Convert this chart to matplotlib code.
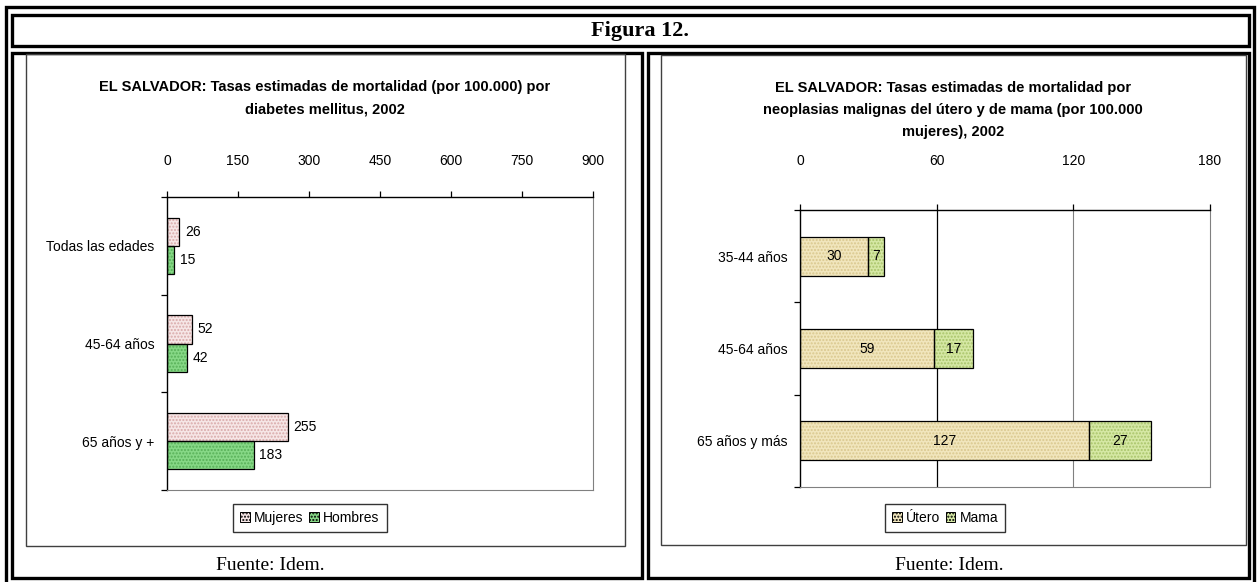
import matplotlib.pyplot as plt
from matplotlib.patches import Rectangle
import numpy as np

plt.rcParams['font.family'] = ['Liberation Sans', 'DejaVu Sans']

W, H = 1258, 582

# --- data: diabetes mortality by age group
diab_groups = ['Todas las edades', '45-64 años', '65 años y +']
diab_mujeres = [26, 52, 255]
diab_hombres = [15, 42, 183]
diab_ticks = [0, 150, 300, 450, 600, 750, 900]

# --- data: uterine / breast cancer mortality
neo_groups = ['35-44 años', '45-64 años', '65 años y más']
neo_utero = [30, 59, 127]
neo_mama = [7, 17, 27]
neo_ticks = [0, 60, 120, 180]

c_muj, c_muj_h = '#f6e6e6', '#d9a9a9'
c_hom, c_hom_h = '#86d886', '#58b058'
c_ute, c_ute_h = '#f1e6bd', '#d9c78e'
c_mam, c_mam_h = '#d5e8a4', '#a9c46a'
grey = '#808080'
FS = 10


def box(x0, y0, x1, y1):
    """pixel box (top-left origin) -> figure fraction rect"""
    return [x0 / W, 1 - y1 / H, (x1 - x0) / W, (y1 - y0) / H]


def frame(x0, y0, x1, y1, lw=2.2, color='black'):
    fig.patches.append(Rectangle((x0 / W, 1 - y1 / H), (x1 - x0) / W, (y1 - y0) / H,
                                 transform=fig.transFigure, fill=False,
                                 lw=lw, edgecolor=color, zorder=5))


def stipple_barh(ax, y, w, left, h, face, dots):
    ax.barh(y, w, left=left, height=h, color=face, hatch='.....',
            edgecolor=dots, linewidth=0, zorder=2)
    ax.barh(y, w, left=left, height=h, fill=False, edgecolor='black',
            linewidth=0.9, zorder=3)


def style_axis(ax, ticks, ncat, pad):
    ax.set_xlim(ticks[0], ticks[-1])
    ax.set_ylim(ncat - 0.5, -0.5)
    ax.xaxis.tick_top()
    ax.set_xticks(ticks)
    ax.tick_params(axis='x', direction='out', length=4, width=0.9, pad=pad,
                   labelsize=FS, colors='black')
    ax.set_yticks(np.arange(ncat))
    ax.set_yticks(np.arange(ncat + 1) - 0.5, minor=True)
    ax.tick_params(axis='y', which='major', length=0, pad=9, labelsize=FS)
    ax.tick_params(axis='y', which='minor', direction='out', length=4, width=0.9)
    ax.spines['top'].set_linewidth(1.0)
    ax.spines['left'].set_linewidth(1.0)
    for s in ('right', 'bottom'):
        ax.spines[s].set_color(grey)
        ax.spines[s].set_linewidth(0.8)


fig = plt.figure(figsize=(W / 100, H / 100), dpi=100)

# table borders
frame(6, 7, 1254, 590, lw=2.4)
frame(12, 15, 1249, 46, lw=2.4)
frame(12, 53, 642, 578, lw=2.4)
frame(648, 53, 1249, 578, lw=2.4)
frame(26, 54, 625, 546, lw=1.0, color='#404040')
frame(661, 55, 1246, 545, lw=1.0, color='#404040')

fig.text(640 / W, 1 - 31 / H, 'Figura 12.', ha='center', va='center',
         fontsize=16, fontweight='bold', family='Liberation Serif')
fig.text(270 / W, 1 - 565 / H, 'Fuente: Idem.', ha='center', va='center',
         fontsize=14, family='Liberation Serif')
fig.text(949 / W, 1 - 565 / H, 'Fuente: Idem.', ha='center', va='center',
         fontsize=14, family='Liberation Serif')

# ---------------- left chart: diabetes
ax1 = fig.add_axes(box(167, 197, 593, 490))
y = np.arange(len(diab_groups))
bh = 0.29
for i in range(len(y)):
    stipple_barh(ax1, y[i] - bh / 2, diab_mujeres[i], 0, bh, c_muj, c_muj_h)
    stipple_barh(ax1, y[i] + bh / 2, diab_hombres[i], 0, bh, c_hom, c_hom_h)
    ax1.annotate(str(diab_mujeres[i]), (diab_mujeres[i], y[i] - bh / 2),
                 xytext=(4, 0), textcoords='offset points', va='center',
                 fontsize=FS)
    ax1.annotate(str(diab_hombres[i]), (diab_hombres[i], y[i] + bh / 2),
                 xytext=(4, 0), textcoords='offset points', va='center',
                 fontsize=FS)
style_axis(ax1, diab_ticks, len(diab_groups), pad=17)
ax1.set_yticklabels(diab_groups)

fig.text(325 / W, 1 - 98 / H,
         'EL SALVADOR: Tasas estimadas de mortalidad (por 100.000) por\n'
         'diabetes mellitus, 2002',
         ha='center', va='center', fontsize=10.5, fontweight='bold',
         linespacing=1.75)

h1 = [Rectangle((0, 0), 1, 1, facecolor=c_muj, edgecolor='black', lw=0.7, hatch='.....'),
      Rectangle((0, 0), 1, 1, facecolor=c_hom, edgecolor='black', lw=0.7, hatch='.....')]
fig.legend(h1, ['Mujeres', 'Hombres'], loc='center', bbox_to_anchor=(310 / W, 1 - 518 / H),
           ncol=2, fontsize=FS, frameon=True, fancybox=False, edgecolor='black',
           handlelength=0.7, handleheight=0.7, handletextpad=0.3, columnspacing=0.4,
           borderpad=0.5)

# ---------------- right chart: neoplasias
ax2 = fig.add_axes(box(800, 210, 1210, 487))
y = np.arange(len(neo_groups))
bh = 0.42
for i in range(len(y)):
    stipple_barh(ax2, y[i], neo_utero[i], 0, bh, c_ute, c_ute_h)
    stipple_barh(ax2, y[i], neo_mama[i], neo_utero[i], bh, c_mam, c_mam_h)
    ax2.text(neo_utero[i] / 2, y[i], str(neo_utero[i]), ha='center', va='center',
             fontsize=FS, zorder=4)
    ax2.text(neo_utero[i] + neo_mama[i] / 2, y[i], str(neo_mama[i]), ha='center',
             va='center', fontsize=FS, zorder=4)
style_axis(ax2, neo_ticks, len(neo_groups), pad=26)
ax2.set_yticklabels(neo_groups)
ax2.axvline(60, color='black', lw=0.9, zorder=1)
ax2.axvline(120, color=grey, lw=0.8, zorder=1)

fig.text(953 / W, 1 - 110 / H,
         'EL SALVADOR: Tasas estimadas de mortalidad por\n'
         'neoplasias malignas del útero y de mama (por 100.000\n'
         'mujeres), 2002',
         ha='center', va='center', fontsize=10.5, fontweight='bold',
         linespacing=1.75)

h2 = [Rectangle((0, 0), 1, 1, facecolor=c_ute, edgecolor='black', lw=0.7, hatch='.....'),
      Rectangle((0, 0), 1, 1, facecolor=c_mam, edgecolor='black', lw=0.7, hatch='.....')]
fig.legend(h2, ['Útero', 'Mama'], loc='center', bbox_to_anchor=(945 / W, 1 - 518 / H),
           ncol=2, fontsize=FS, frameon=True, fancybox=False, edgecolor='black',
           handlelength=0.7, handleheight=0.7, handletextpad=0.3, columnspacing=0.4,
           borderpad=0.5)

fig.savefig('out.png', dpi=100)
